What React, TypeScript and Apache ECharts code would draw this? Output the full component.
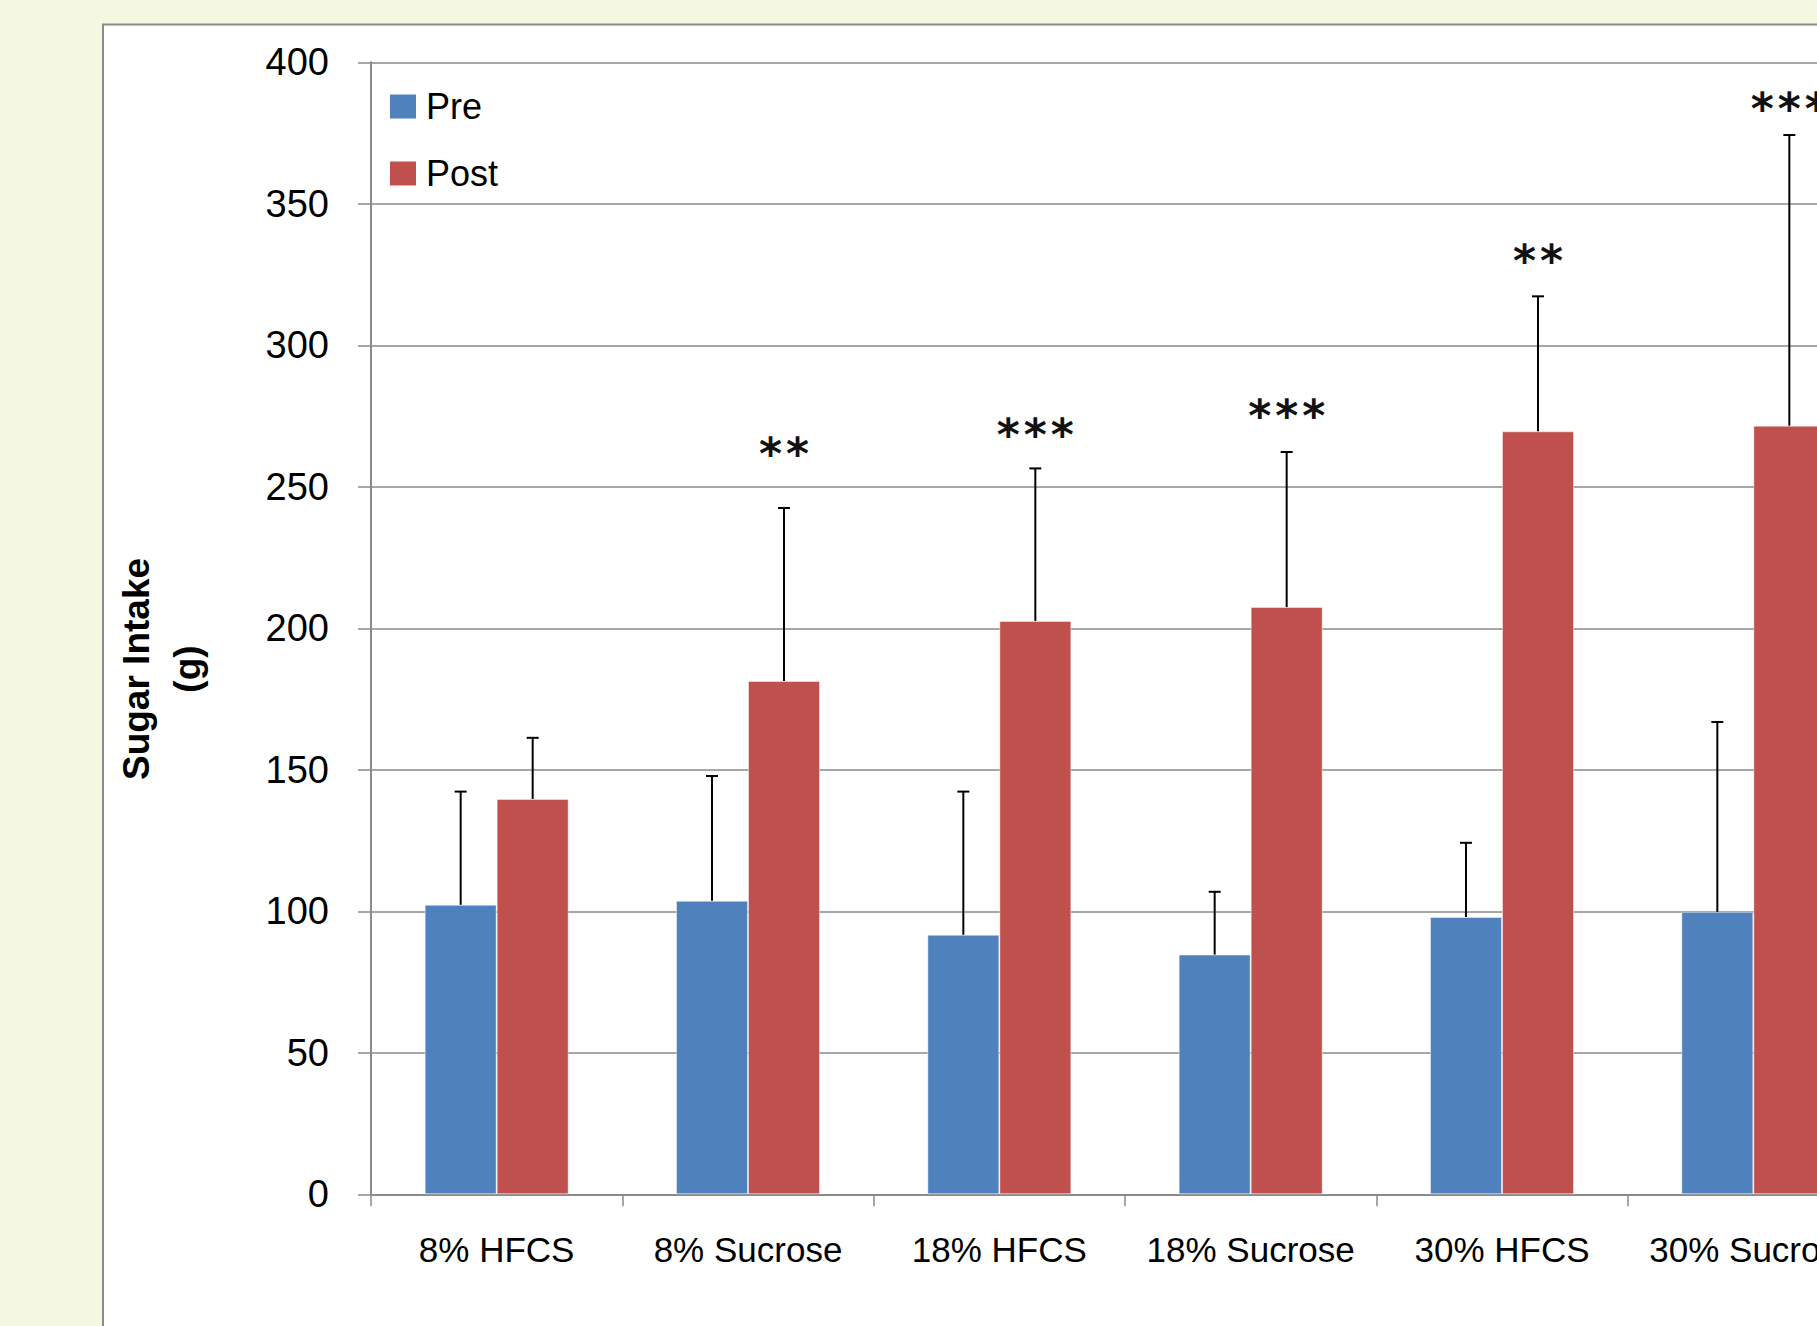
import React, { useEffect, useRef } from "react";
import * as echarts from "echarts";

// ---- data ----
const categories = ["8% HFCS", "8% Sucrose", "18% HFCS", "18% Sucrose", "30% HFCS", "30% Sucrose"];
const preMean = [102.3, 103.7, 91.7, 84.7, 98.0, 99.8];
const preUpper = [142.3, 147.8, 142.3, 106.9, 124.2, 166.9];
const postMean = [139.7, 181.4, 202.6, 207.5, 269.6, 271.6];
const postUpper = [161.3, 242.5, 256.5, 262.3, 317.3, 374.3];
const sigMarks = ["", "**", "***", "***", "**", "***"];
const sigLevel = [0, 263.4, 270.3, 277.1, 331.9, 385.3];
const yMin = 0;
const yMax = 400;
const yStep = 50;

// ---- style constants ----
const BG = "#F5F8E1";
const GRAY = "#8a8a8a";
const FONT = '"Liberation Sans", Arial, sans-serif';
const BAR_W = 72;
const CAP_HALF = 6;
const STAR_STEP = 27;

function errorRenderer(offset: number) {
  return (params: any, api: any) => {
    const base = api.coord([api.value(0), api.value(1)]);
    const top = api.coord([api.value(0), api.value(2)]);
    const x = base[0] + offset;
    return {
      type: "group",
      children: [
        { type: "line", shape: { x1: x, y1: base[1], x2: x, y2: top[1] }, style: { stroke: "#000", lineWidth: 2 } },
        { type: "line", shape: { x1: x - CAP_HALF, y1: top[1], x2: x + CAP_HALF, y2: top[1] }, style: { stroke: "#000", lineWidth: 2 } },
      ],
    };
  };
}

export default function App() {
  const ref = useRef<HTMLDivElement>(null);
  useEffect(() => {
    document.body.style.margin = "0";
    const chart = echarts.init(ref.current!, null, { renderer: "svg" });
    const option: any = {
      animation: false,
      backgroundColor: BG,
      graphic: [
        {
          type: "rect",
          z: -100,
          shape: { x: 103, y: 24.5, width: 1900, height: 1400 },
          style: { fill: "#ffffff", stroke: GRAY, lineWidth: 2 },
        },
        {
          type: "text",
          x: 136,
          y: 669,
          rotation: Math.PI / 2,
          style: { text: "Sugar Intake", fontSize: 37, fontWeight: "bold", fontFamily: FONT, fill: "#000", align: "center", verticalAlign: "middle" },
        },
        {
          type: "text",
          x: 187,
          y: 669,
          rotation: Math.PI / 2,
          style: { text: "(g)", fontSize: 37, fontWeight: "bold", fontFamily: FONT, fill: "#000", align: "center", verticalAlign: "middle" },
        },
      ],
      legend: {
        data: ["Pre", "Post"],
        orient: "vertical",
        left: 390,
        top: 88.5,
        padding: 0,
        itemWidth: 26,
        itemHeight: 24,
        itemGap: 31,
        icon: "rect",
        itemStyle: { borderWidth: 0 },
        textStyle: { fontSize: 36, fontFamily: FONT, color: "#000", lineHeight: 36, padding: [0, 0, 0, 5] },
      },
      grid: { left: 371, top: 62.3, width: 1508, height: 1132 },
      xAxis: {
        type: "category",
        data: categories,
        boundaryGap: true,
        axisLine: { lineStyle: { color: GRAY, width: 2 } },
        axisTick: { show: true, length: 12, lineStyle: { color: GRAY, width: 1.5 } },
        axisLabel: { fontSize: 35, fontFamily: FONT, color: "#000", margin: 38, interval: 0 },
        splitLine: { show: false },
      },
      yAxis: {
        type: "value",
        min: yMin,
        max: yMax,
        interval: yStep,
        axisLine: { show: true, lineStyle: { color: GRAY, width: 2 } },
        axisTick: { show: true, length: 13, lineStyle: { color: GRAY, width: 1.5 } },
        axisLabel: { fontSize: 38, fontFamily: FONT, color: "#000", margin: 42 },
        splitLine: { show: true, lineStyle: { color: GRAY, width: 1.5 } },
      },
      series: [
        {
          name: "Pre",
          type: "bar",
          data: preMean,
          barWidth: BAR_W,
          barGap: "0%",
          itemStyle: { color: "#4F81BD", borderColor: "rgba(255,255,255,0.45)", borderWidth: 1 },
          z: 2,
        },
        {
          name: "Post",
          type: "bar",
          data: postMean,
          barWidth: BAR_W,
          barGap: "0%",
          itemStyle: { color: "#C0504D", borderColor: "rgba(255,255,255,0.45)", borderWidth: 1 },
          z: 2,
        },
        {
          name: "PreErr",
          type: "custom",
          z: 5,
          renderItem: errorRenderer(-BAR_W / 2),
          encode: { x: 0, y: 2 },
          data: categories.map((_, i) => [i, preMean[i], preUpper[i]]),
        },
        {
          name: "PostErr",
          type: "custom",
          z: 5,
          renderItem: errorRenderer(BAR_W / 2),
          encode: { x: 0, y: 2 },
          data: categories.map((_, i) => [i, postMean[i], postUpper[i]]),
        },
        {
          name: "Sig",
          type: "custom",
          z: 6,
          encode: { x: 0, y: 1 },
          renderItem: (params: any, api: any) => {
            const marks = sigMarks[params.dataIndex] || "";
            const c = api.coord([api.value(0), api.value(1)]);
            const cx = c[0] + BAR_W / 2;
            const n = marks.length;
            const children = marks.split("").map((ch: string, i: number) => ({
              type: "text",
              x: cx + (i - (n - 1) / 2) * STAR_STEP,
              y: c[1] + 5,
              style: { text: ch, fontSize: 44, fontWeight: "bold", fontFamily: '"DejaVu Sans", sans-serif', fill: "#111", align: "center", verticalAlign: "middle" },
            }));
            return { type: "group", children };
          },
          data: categories.map((_, i) => [i, sigLevel[i]]),
        },
      ],
    };
    chart.setOption(option);
    return () => chart.dispose();
  }, []);
  return (
    <div style={{ width: 1817, height: 1326, overflow: "hidden", position: "relative", background: BG }}>
      <div ref={ref} style={{ width: 1900, height: 1326 }} />
    </div>
  );
}
